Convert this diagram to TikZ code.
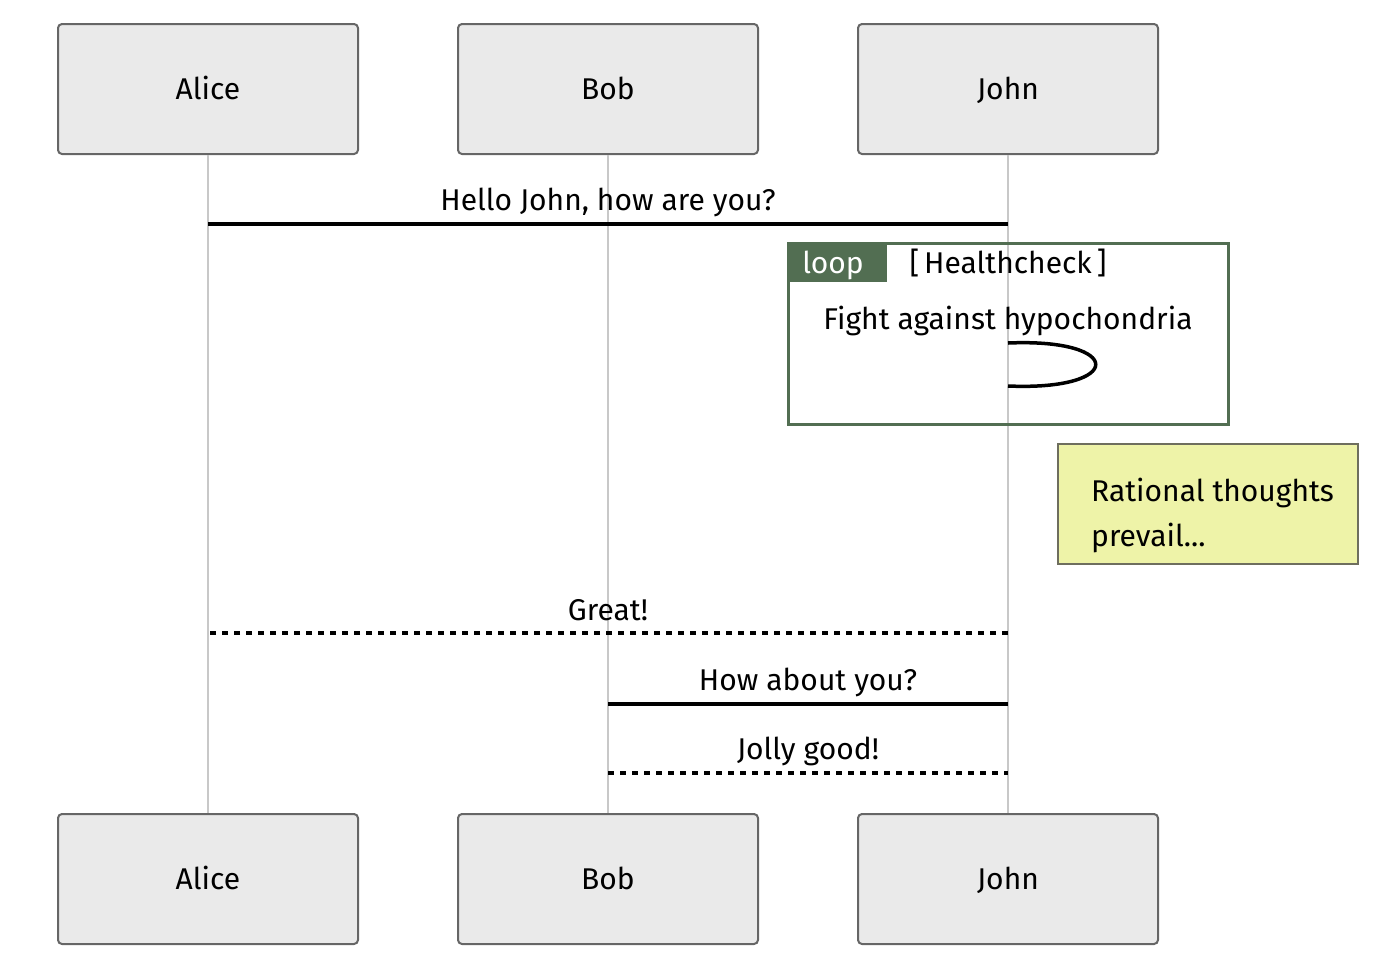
\documentclass[tikz,border=0pt]{standalone}
\usepackage{fontspec}
\setmainfont{Fira Sans}
\definecolor{actfill}{HTML}{EAEAEA}
\definecolor{actdraw}{HTML}{666666}
\definecolor{lifeln}{HTML}{C8C8C8}
\definecolor{loopgreen}{HTML}{526E52}
\definecolor{notefill}{HTML}{EEF3A8}
\definecolor{notedraw}{HTML}{6E6E5E}
\begin{document}
\begin{tikzpicture}[x=1pt,y=-1pt,
  actor/.style={draw=actdraw,line width=2pt,fill=actfill,rounded corners=4pt,minimum width=300pt,minimum height=130pt,inner sep=0pt},
  lbl/.style={font=\fontsize{30}{34}\selectfont,inner sep=0pt,anchor=base},
  msg/.style={line width=3.5pt},
  reply/.style={line width=3.5pt,dash pattern=on 6pt off 6pt},
  life/.style={draw=lifeln,line width=1.4pt}]
\useasboundingbox (0,0) rectangle (1392,962);
% actors
\node[actor] (alice1) at (208,89) {};
\node[actor] (bob1) at (608,89) {};
\node[actor] (john1) at (1008,89) {};
\node[actor] (alice2) at (208,879) {};
\node[actor] (bob2) at (608,879) {};
\node[actor] (john2) at (1008,879) {};
\draw[life] (alice1.south) -- (alice2.north);
\draw[life] (bob1.south) -- (bob2.north);
\draw[life] (john1.south) -- (john2.north);
\node[lbl] (talice1) at (208,99) {Alice};
\node[lbl] (tbob1) at (608,99) {Bob};
\node[lbl] (tjohn1) at (1008,99) {John};
\node[lbl] (talice2) at (208,889) {Alice};
\node[lbl] (tbob2) at (608,889) {Bob};
\node[lbl] (tjohn2) at (1008,889) {John};
% message 1
\coordinate (m1a) at (208,224); \coordinate (m1b) at (1008,224);
\draw[msg] (m1a) -- (m1b);
\node[lbl] (l1) at (608,210) {Hello John, how are you?};
% loop
\node[draw=loopgreen,line width=3pt,minimum width=440pt,minimum height=181pt,inner sep=0pt] (loopbox) at (1008,333.5) {};
\node[fill=loopgreen,minimum width=100pt,minimum height=40pt,inner sep=0pt,anchor=north west] (looptab) at (loopbox.north west) {};
\node[lbl,text=white] (looptxt) at (833,273) {loop};
\node[lbl] (cond) at (1008,273) {[\,Healthcheck\,]};
\node[lbl] (fight) at (1008,329) {Fight against hypochondria};
\coordinate (s1) at (1008,343); \coordinate (s2) at (1008,386);
\draw[line width=3.5pt] (s1) .. controls (1125,338) and (1125,391) .. (s2);
% note
\node[draw=notedraw,line width=2pt,fill=notefill,minimum width=300pt,minimum height=120pt,inner sep=0pt] (note) at (1208,504) {};
\node[lbl,anchor=base west] (n1) at (1091,501) {Rational thoughts};
\node[lbl,anchor=base west] (n2) at (1091,546) {prevail...};
% Great!
\coordinate (m2a) at (208,633); \coordinate (m2b) at (1008,633);
\draw[reply] (m2b) -- (m2a);
\node[lbl] (l2) at (608,620) {Great!};
% How about you?
\coordinate (m3a) at (608,704); \coordinate (m3b) at (1008,704);
\draw[msg] (m3b) -- (m3a);
\node[lbl] (l3) at (808,690) {How about you?};
% Jolly good!
\coordinate (m4a) at (608,773); \coordinate (m4b) at (1008,773);
\draw[reply] (m4a) -- (m4b);
\node[lbl] (l4) at (808,759) {Jolly good!};
\end{tikzpicture}
\end{document}
